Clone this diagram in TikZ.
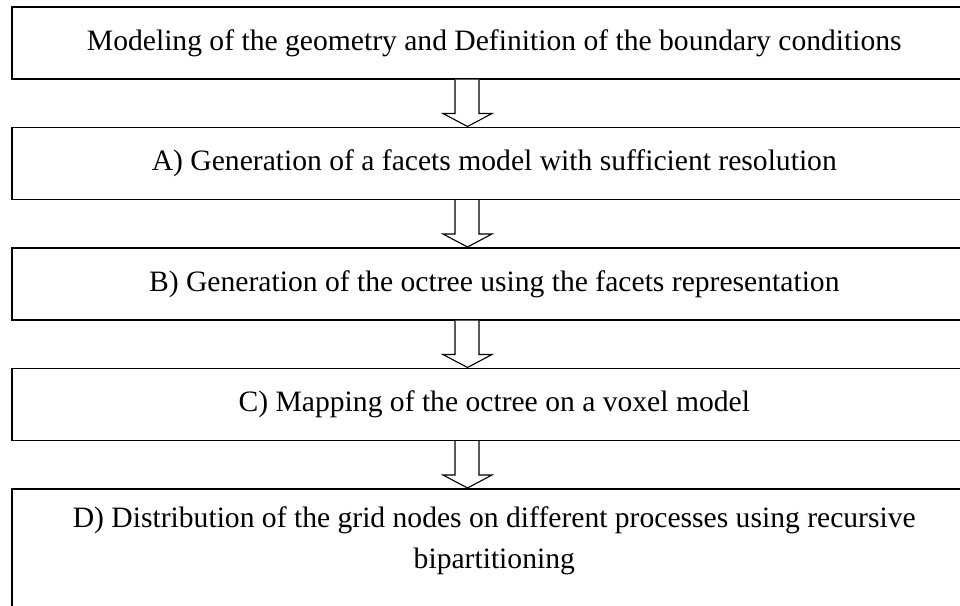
\documentclass[tikz,border=0pt]{standalone}
\usepackage{fontspec}
\setmainfont{Liberation Serif}
\usetikzlibrary{calc}
\tikzset{
  stepbox/.style={draw=black, line width=1.6pt, fill=none, anchor=north west,
    minimum width=965pt, minimum height=72pt, inner sep=0pt,
    font=\fontsize{29.6}{40}\selectfont},
  txt/.style={font=\fontsize{29.6}{40.5}\selectfont, align=center, inner sep=0pt},
  arrowline/.style={draw=black, line width=1.1pt, line join=miter, fill=white}
}
\newcommand\blockarrow[2]{%
  \draw[arrowline] ($(#1.south west)+(444,0)$) -- ($(#2.north west)+(444,13)$)
    -- ($(#2.north west)+(432,13)$) -- ($(#2.north west)+(456.5,0)$)
    -- ($(#2.north west)+(481,13)$) -- ($(#2.north west)+(468,13)$)
    -- ($(#1.south west)+(468,0)$);}
\begin{document}
\begin{tikzpicture}[x=1pt,y=1pt]
\useasboundingbox (0,0) rectangle (960,-605);
\clip (0,0) rectangle (960,-605);
\node[stepbox] (b1) at (11,-6) {Modeling of the geometry and Definition of the boundary conditions};
\node[stepbox] (b2) at (11,-126.5) {A) Generation of a facets model with sufficient resolution};
\node[stepbox] (b3) at (11,-247) {B) Generation of the octree using the facets representation};
\node[stepbox] (b4) at (11,-367.5) {C) Mapping of the octree on a voxel model};
\node[stepbox, minimum height=150pt] (b5) at (11,-488) {};
\node[txt] (t5) at ($(b5.north)+(0,-53)$) {D) Distribution of the grid nodes on different processes using recursive\\bipartitioning};
\blockarrow{b1}{b2}
\blockarrow{b2}{b3}
\blockarrow{b3}{b4}
\blockarrow{b4}{b5}
\end{tikzpicture}
\end{document}
